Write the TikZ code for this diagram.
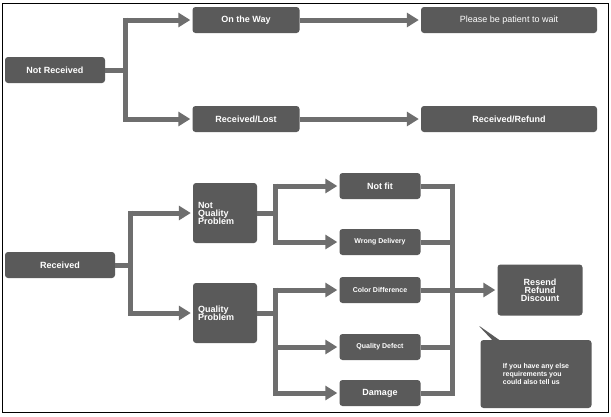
\documentclass[tikz,border=0pt]{standalone}
\usepackage{fontspec}
\setmainfont{Liberation Sans}
\usetikzlibrary{arrows.meta,shapes.callouts}
\definecolor{boxgray}{HTML}{5A5A5A}
\definecolor{linegray}{HTML}{6E6E6E}
\tikzset{
  box/.style={fill=boxgray, rounded corners=3pt, text=white, font=\bfseries\small,
    inner sep=1pt, minimum height=26pt, align=center},
  flow/.style={draw=linegray, line width=5pt},
  arr/.style={flow, -{Triangle[length=12pt,width=14pt]}, shorten >=2pt}
}
\begin{document}
\begin{tikzpicture}[x=1pt,y=-1pt,line join=miter]
\useasboundingbox (0,0) rectangle (611,416);
\fill[white] (0,0) rectangle (611,416);
\draw[line width=1pt] (2,3) rectangle (608,412);

% not received branch
\node[box, minimum width=100pt] (notrec) at (55,70) {Not Received};
\node[box, minimum width=107pt] (way) at (246,20) {On the Way};
\node[box, minimum width=107pt] (lost) at (246,119) {Received/Lost};
\node[box, minimum width=176pt, font=\small] (wait) at (509,20) {Please be patient to wait};
\node[box, minimum width=176pt] (refund) at (509,119) {Received/Refund};
\coordinate (t1) at (125,70);
\draw[flow] (notrec.east) -- (t1);
\draw[arr] (125,20) -- (way.west);
\draw[arr] (125,119) -- (lost.west);
\draw[flow] (125,17.5) -- (125,121.5);
\draw[arr] (way) -- (wait);
\draw[arr] (lost) -- (refund);

% received branch
\node[box, minimum width=110pt] (rec) at (60,265) {Received};
\node[box, minimum width=64pt, minimum height=60pt, align=left, text width=54pt] (nqp) at (225,213) {Not\\[-3pt]Quality\\[-3pt]Problem};
\node[box, minimum width=64pt, minimum height=60pt, align=left, text width=54pt] (qp) at (225,313) {Quality\\[-3pt]Problem};
\node[box, minimum width=81pt] (notfit) at (380,186) {Not fit};
\node[box, minimum width=81pt, font=\bfseries\scriptsize] (wrong) at (380,242) {Wrong Delivery};
\node[box, minimum width=81pt, font=\bfseries\scriptsize] (color) at (380,290) {Color Difference};
\node[box, minimum width=81pt, font=\bfseries\scriptsize] (defect) at (380,347) {Quality Defect};
\node[box, minimum width=81pt] (damage) at (380,393) {Damage};
\node[box, minimum width=85pt, minimum height=51pt] (resend) at (540,290) {Resend\\[-3pt]Refund\\[-3pt]Discount};
\node[box, rectangle callout, callout absolute pointer={(478,325)}, minimum width=111pt,
  minimum height=68pt, font=\bfseries\scriptsize, align=left] (note) at (536,374)
  {If you have any else\\requirements you\\could also tell us};

\draw[flow] (rec.east) -- (130,265);
\draw[flow] (130,210.5) -- (130,315.5);
\draw[arr] (130,213) -- (nqp.west);
\draw[arr] (130,313) -- (qp.west);

\draw[flow] (nqp.east) -- (275,213);
\draw[flow] (275,183.5) -- (275,244.5);
\draw[arr] (275,186) -- (notfit.west);
\draw[arr] (275,242) -- (wrong.west);

\draw[flow] (qp.east) -- (275,313);
\draw[flow] (275,287.5) -- (275,395.5);
\draw[arr] (275,290) -- (color.west);
\draw[arr] (275,347) -- (defect.west);
\draw[arr] (275,393) -- (damage.west);

\foreach \b in {notfit,wrong,color,defect,damage}
  \draw[flow] (\b.east) -- (452,0 |- \b.east);
\draw[flow] (452,183.5) -- (452,395.5);
\draw[arr] (color.east) -- (resend.west);
\end{tikzpicture}
\end{document}
